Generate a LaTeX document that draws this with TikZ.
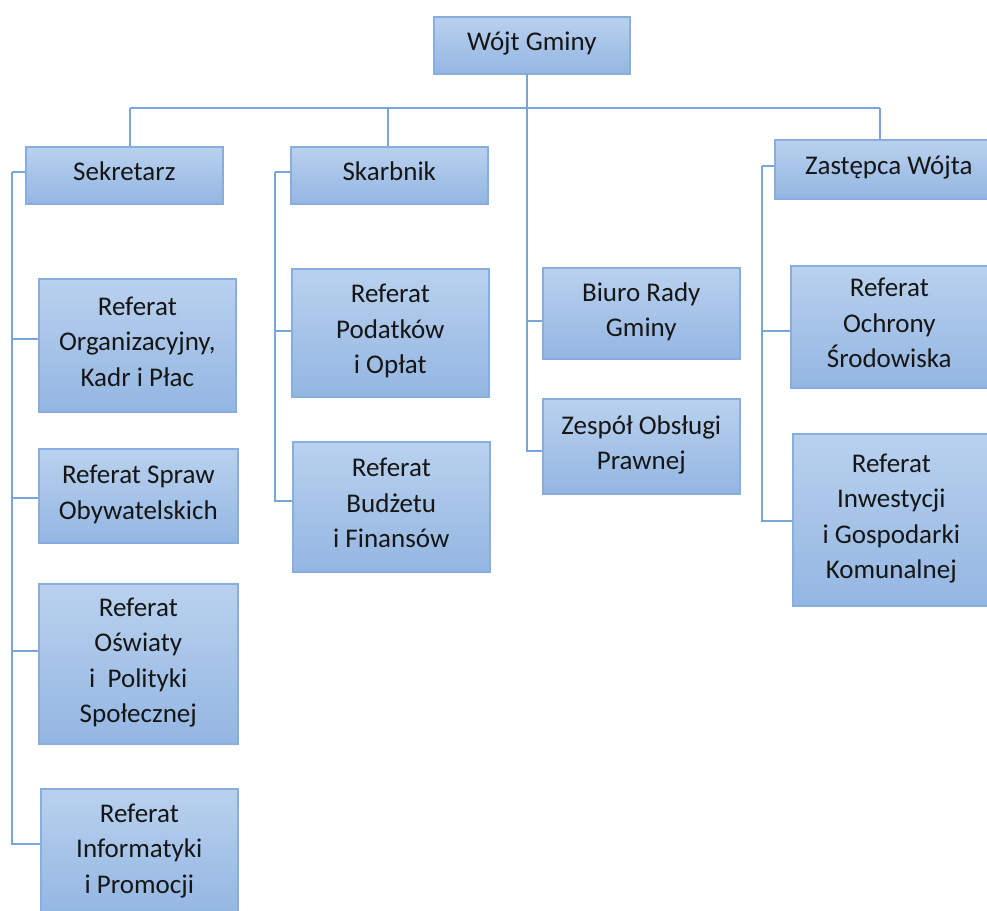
\documentclass[tikz,border=0pt]{standalone}
\usepackage{fontspec}
\setmainfont{Carlito}
\usetikzlibrary{shadows}
\definecolor{boxtop}{HTML}{B9D1EE}
\definecolor{boxbot}{HTML}{93B6E2}
\definecolor{boxline}{HTML}{88AEDF}
\definecolor{conncol}{HTML}{78A6DC}
\definecolor{txt}{HTML}{161616}
\newcommand\lnst{\rule[-12.25pt]{0pt}{35.5pt}}
\tikzset{
  orgbox/.style={draw=boxline, line width=1.6pt, top color=boxtop, bottom color=boxbot,
    minimum width=197pt, anchor=north west, align=center, inner sep=2pt,
    text=txt, font=\fontsize{27}{35.5}\selectfont,
    drop shadow={shadow xshift=1.5pt, shadow yshift=-1.5pt, fill=black!30, opacity=0.45}},
  conn/.style={draw=conncol, line width=2pt}
}
\begin{document}
\begin{tikzpicture}[x=1pt,y=-1pt]
\useasboundingbox (0,0) rectangle (987,910);
\clip (0,0) rectangle (987,910);
\fill[white] (0,0) rectangle (987,910);

% coordinates of connector lines
\coordinate (ctop) at (527,73);
\coordinate (busL) at (130,108);
\coordinate (busS) at (388,108);
\coordinate (busM) at (527,108);
\coordinate (busR) at (880,108);
\coordinate (sekV) at (12,172);
\coordinate (skaV) at (275,172);
\coordinate (zasV) at (762,166);

% boxes
\node[orgbox, minimum width=196pt, minimum height=57pt] (wojt) at (433,16) {\lnst Wójt Gminy};
\node[orgbox, minimum height=57pt] (sek) at (25,146) {\lnst Sekretarz};
\node[orgbox, minimum height=57pt] (ska) at (290,146) {\lnst Skarbnik};
\node[orgbox, minimum width=228pt, minimum height=59pt] (zas) at (774,139) {\lnst Zastępca Wójta};

\node[orgbox, minimum height=133pt] (org) at (38,278) {\lnst Referat\\\lnst Organizacyjny,\\\lnst Kadr i Płac};
\node[orgbox, minimum width=199pt, minimum height=94pt] (spr) at (38,448) {\lnst Referat Spraw\\\lnst Obywatelskich};
\node[orgbox, minimum width=199pt, minimum height=160pt] (osw) at (38,583) {\lnst Referat\\\lnst Oświaty\\\lnst i\ \ Polityki\\\lnst Społecznej};
\node[orgbox, minimum height=127pt] (inf) at (40,788) {\lnst Referat\\\lnst Informatyki\\\lnst i Promocji};

\node[orgbox, minimum height=128pt] (pod) at (291,268) {\lnst Referat\\\lnst Podatków\\\lnst i Opłat};
\node[orgbox, minimum height=130pt] (bud) at (292,441) {\lnst Referat\\\lnst Budżetu\\\lnst i Finansów};

\node[orgbox, minimum height=91pt] (biu) at (542,267) {\lnst Biuro Rady\\\lnst Gminy};
\node[orgbox, minimum height=95pt] (zes) at (542,398) {\lnst Zespół Obsługi\\\lnst Prawnej};

\node[orgbox, minimum height=122pt] (och) at (790,265) {\lnst Referat\\\lnst Ochrony\\\lnst Środowiska};
\node[orgbox, minimum height=172pt] (inw) at (792,433) {\lnst Referat\\\lnst Inwestycji\\\lnst i Gospodarki\\\lnst Komunalnej};

% top bus
\draw[conn] (ctop) -- (busM);
\draw[conn] (busL) -- (busR);
\draw[conn] (busL) -- (busL |- sek.north);
\draw[conn] (busS) -- (busS |- ska.north);
\draw[conn] (busR) -- (busR |- zas.north);
% centre column
\draw[conn] (busM) |- ([yshift=-5pt]zes.west);
\draw[conn] (busM |- biu.west) ++(0,8) -- ([yshift=-8pt]biu.west);

% Sekretarz branch
\draw[conn] (sekV) -- (sekV -| sek.west);
\draw[conn] (sekV) |- ([yshift=8pt]inf.west);
\draw[conn] (sekV |- org.west) ++(0,-6) -- ([yshift=6pt]org.west);
\draw[conn] (sekV |- spr.west) ++(0,2) -- ([yshift=-2pt]spr.west);
\draw[conn] (sekV |- osw.west) ++(0,-13) -- ([yshift=13pt]osw.west);

% Skarbnik branch
\draw[conn] (skaV) -- (skaV -| ska.west);
\draw[conn] (skaV) |- ([yshift=6pt]bud.west);
\draw[conn] (skaV |- pod.west) ++(0,-2) -- ([yshift=2pt]pod.west);

% Zastepca branch
\draw[conn] (zasV) -- (zasV -| zas.west);
\draw[conn] (zasV) |- ([yshift=-1pt]inw.west);
\draw[conn] (zasV |- och.west) ++(0,4) -- ([yshift=-4pt]och.west);
\end{tikzpicture}
\end{document}
